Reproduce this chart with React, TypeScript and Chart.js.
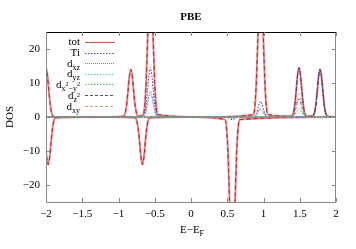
import { useEffect, useRef } from 'react';
import { Chart, registerables } from 'chart.js';

Chart.register(...registerables);

const FONT = '"Liberation Serif", "Times New Roman", serif';

// Energy grid (E - E_F) for spin-up curves
const X_UP = [
  -2.02, -2.0, -1.98, -1.96, -1.94, -1.92, -1.9, -1.88,
  -1.2,
  -0.93, -0.91, -0.89, -0.87, -0.85, -0.83, -0.81, -0.79, -0.77, -0.75, -0.73,
  -0.66, -0.64, -0.62, -0.6, -0.58, -0.56, -0.54, -0.52, -0.5, -0.48, -0.46,
  0.2,
  0.86, 0.88, 0.9, 0.92, 0.94, 0.96, 0.98, 1.0, 1.02, 1.04, 1.06,
  1.39, 1.41, 1.43, 1.45, 1.47, 1.49, 1.51, 1.53, 1.55, 1.57, 1.59,
  1.68, 1.7, 1.72, 1.74, 1.76, 1.78, 1.8, 1.82, 1.84, 1.86, 1.88,
  2.02,
];

const TOT_UP = [
  14.2, 14.5, 12.3, 7.5, 3.3, 1.0, 0.25, 0,
  0,
  0.24, 1.0, 3.2, 7.3, 11.9, 14.0, 11.9, 7.3, 3.2, 1.0, 0.24,
  0.7, 2.9, 9.7, 21.8, 35.7, 42, 35.7, 21.8, 9.7, 2.9, 0.7,
  0,
  0.7, 2.9, 9.7, 21.8, 35.7, 42, 35.7, 21.8, 9.7, 2.9, 0.7,
  0.25, 1.0, 3.3, 7.5, 12.3, 14.5, 12.3, 7.5, 3.3, 1.0, 0.25,
  0.24, 1.0, 3.2, 7.3, 11.9, 14.0, 11.9, 7.3, 3.2, 1.0, 0.24,
  0,
];

const TI_UP = [
  0, 0, 0, 0, 0, 0, 0, 0,
  0,
  0, 0, 0, 0, 0, 0, 0, 0, 0, 0, 0,
  0.25, 1.0, 3.3, 7.5, 12.3, 14.5, 12.3, 7.5, 3.3, 1.0, 0.25,
  0,
  0.08, 0.3, 1.0, 2.3, 3.8, 4.6, 3.8, 2.3, 1.0, 0.3, 0.08,
  0.25, 1.0, 3.3, 7.5, 12.3, 14.5, 12.3, 7.5, 3.3, 1.0, 0.25,
  0.24, 1.0, 3.2, 7.3, 11.9, 14.0, 11.9, 7.3, 3.2, 1.0, 0.24,
  0,
];

const DXZ_UP = [
  0, 0, 0, 0, 0, 0, 0, 0,
  0,
  0, 0, 0, 0, 0, 0, 0, 0, 0, 0, 0,
  0.13, 0.53, 1.7, 3.9, 6.4, 7.5, 6.4, 3.9, 1.7, 0.53, 0.13,
  0,
  0.04, 0.16, 0.53, 1.2, 2.0, 2.3, 2.0, 1.2, 0.53, 0.16, 0.04,
  0, 0, 0, 0, 0, 0, 0, 0, 0, 0, 0,
  0, 0, 0, 0, 0, 0, 0, 0, 0, 0, 0,
  0,
];

const DYZ_UP = [
  0, 0, 0, 0, 0, 0, 0, 0,
  0,
  0, 0, 0, 0, 0, 0, 0, 0, 0, 0, 0,
  0.12, 0.5, 1.6, 3.7, 6.1, 7.2, 6.1, 3.7, 1.6, 0.5, 0.12,
  0,
  0.04, 0.16, 0.53, 1.2, 2.0, 2.3, 2.0, 1.2, 0.53, 0.16, 0.04,
  0, 0, 0, 0, 0, 0, 0, 0, 0, 0, 0,
  0, 0, 0, 0, 0, 0, 0, 0, 0, 0, 0,
  0,
];

const DX2Y2_UP = [
  0, 0, 0, 0, 0, 0, 0, 0,
  0,
  0, 0, 0, 0, 0, 0, 0, 0, 0, 0, 0,
  0, 0, 0, 0, 0, 0, 0, 0, 0, 0, 0,
  0,
  0, 0, 0, 0, 0, 0, 0, 0, 0, 0, 0,
  0.04, 0.17, 0.55, 1.25, 2.0, 2.4, 2.0, 1.25, 0.55, 0.17, 0.04,
  0, 0, 0, 0, 0, 0, 0, 0, 0, 0, 0,
  0,
];

const DZ2_UP = [
  0, 0, 0, 0, 0, 0, 0, 0,
  0,
  0, 0, 0, 0, 0, 0, 0, 0, 0, 0, 0,
  0, 0, 0, 0, 0, 0, 0, 0, 0, 0, 0,
  0,
  0, 0, 0, 0, 0, 0, 0, 0, 0, 0, 0,
  0.09, 0.37, 1.2, 2.8, 4.5, 5.3, 4.5, 2.8, 1.2, 0.37, 0.09,
  0.24, 1.0, 3.2, 7.3, 11.9, 14.0, 11.9, 7.3, 3.2, 1.0, 0.24,
  0,
];

const DXY_UP = [
  0, 0, 0, 0, 0, 0, 0, 0,
  0,
  0, 0, 0, 0, 0, 0, 0, 0, 0, 0, 0,
  0, 0, 0, 0, 0, 0, 0, 0, 0, 0, 0,
  0,
  0, 0, 0, 0, 0, 0, 0, 0, 0, 0, 0,
  0.12, 0.48, 1.6, 3.5, 5.8, 6.8, 5.8, 3.5, 1.6, 0.48, 0.12,
  0, 0, 0, 0, 0, 0, 0, 0, 0, 0, 0,
  0,
];

// Energy grid for spin-down curves
const X_DN = [
  -2.07, -2.05, -2.03, -2.01, -1.99, -1.97, -1.95, -1.93, -1.91, -1.89, -1.87,
  -1.2,
  -0.77, -0.75, -0.73, -0.71, -0.69, -0.67, -0.65, -0.63, -0.61, -0.59, -0.57,
  0.0,
  0.47, 0.49, 0.51, 0.53, 0.55, 0.57, 0.59, 0.61, 0.63, 0.65, 0.67,
  2.02,
];

const TOT_DN = [
  -0.24, -1.0, -3.2, -7.3, -11.9, -14.0, -11.9, -7.3, -3.2, -1.0, -0.24,
  0,
  -0.24, -1.0, -3.2, -7.3, -11.9, -14.0, -11.9, -7.3, -3.2, -1.0, -0.24,
  0,
  -0.77, -3.2, -10.4, -23.4, -38.3, -45, -38.3, -23.4, -10.4, -3.2, -0.77,
  0,
];

const TI_DN = [
  0, 0, 0, 0, 0, 0, 0, 0, 0, 0, 0,
  0,
  0, 0, 0, 0, 0, 0, 0, 0, 0, 0, 0,
  0,
  -0.01, -0.06, -0.18, -0.42, -0.68, -0.8, -0.68, -0.42, -0.18, -0.06, -0.01,
  0,
];

const DXZ_DN = [
  0, 0, 0, 0, 0, 0, 0, 0, 0, 0, 0,
  0,
  0, 0, 0, 0, 0, 0, 0, 0, 0, 0, 0,
  0,
  0, -0.03, -0.09, -0.21, -0.34, -0.4, -0.34, -0.21, -0.09, -0.03, 0,
  0,
];

const X_TICKS = [-2, -1.5, -1, -0.5, 0, 0.5, 1, 1.5, 2];
const Y_TICKS = [-20, -10, 0, 10, 20];

type Part = { t: string; s: number; dy: number };

const LEGEND: { parts: Part[]; color: string; width: number; dash: number[] }[] = [
  { parts: [{ t: 'tot', s: 11, dy: 0 }], color: '#c86060', width: 1.2, dash: [] },
  { parts: [{ t: 'Ti', s: 11, dy: 0 }], color: '#4a4aa8', width: 1, dash: [1.5, 1.5] },
  { parts: [{ t: 'd', s: 11, dy: 0 }, { t: 'xz', s: 8, dy: 3 }], color: '#c850d0', width: 1, dash: [1, 1] },
  { parts: [{ t: 'd', s: 11, dy: 0 }, { t: 'yz', s: 8, dy: 3 }], color: '#40d0d8', width: 1, dash: [1.5, 1.5] },
  {
    parts: [
      { t: 'd', s: 11, dy: 0 },
      { t: 'x', s: 8, dy: 3 },
      { t: '2', s: 6, dy: -2 },
      { t: '\u2212y', s: 8, dy: 3 },
      { t: '2', s: 6, dy: -2 },
    ],
    color: '#40c840', width: 1, dash: [1.5, 1.5],
  },
  { parts: [{ t: 'd', s: 11, dy: 0 }, { t: 'z', s: 8, dy: 3 }, { t: '2', s: 6, dy: -2 }], color: '#505070', width: 1, dash: [3, 2] },
  { parts: [{ t: 'd', s: 11, dy: 0 }, { t: 'xy', s: 8, dy: 3 }], color: '#d0a078', width: 1, dash: [3, 2] },
];

const LEGEND_Y = [41.5, 52.5, 63, 73.5, 84, 95, 106];

function pts(xs: number[], ys: number[]) {
  return xs.map((x, i) => ({ x, y: ys[i] }));
}

function fmt(v: number) {
  return String(v).replace('-', '\u2212');
}

function drawRich(ctx: CanvasRenderingContext2D, parts: Part[], x: number, y: number, align: 'right' | 'center', bold = false) {
  let w = 0;
  for (const p of parts) {
    ctx.font = `${bold ? 'bold ' : ''}${p.s}px ${FONT}`;
    w += ctx.measureText(p.t).width;
  }
  let cx = align === 'right' ? x - w : x - w / 2;
  ctx.textAlign = 'left';
  ctx.textBaseline = 'alphabetic';
  for (const p of parts) {
    ctx.font = `${bold ? 'bold ' : ''}${p.s}px ${FONT}`;
    ctx.fillText(p.t, cx, y + p.dy);
    cx += ctx.measureText(p.t).width;
  }
}

const gnuplotPlugin = {
  id: 'gnuplotFrame',
  afterDraw(chart: any) {
    const ctx: CanvasRenderingContext2D = chart.ctx;
    const { left, right, top, bottom } = chart.chartArea;
    const xs = chart.scales.x;
    const ys = chart.scales.y;
    ctx.save();
    // frame
    ctx.lineWidth = 1;
    ctx.setLineDash([]);
    ctx.strokeStyle = '#888888';
    ctx.beginPath();
    ctx.moveTo(left + 0.5, top);
    ctx.lineTo(left + 0.5, bottom + 0.5);
    ctx.lineTo(right - 0.5, bottom + 0.5);
    ctx.lineTo(right - 0.5, top);
    ctx.stroke();
    ctx.strokeStyle = '#000000';
    ctx.beginPath();
    ctx.moveTo(left, top + 0.5);
    ctx.lineTo(right, top + 0.5);
    ctx.stroke();
    // ticks
    ctx.strokeStyle = '#888888';
    const tl = 4;
    ctx.beginPath();
    for (const v of X_TICKS) {
      const px = Math.round(xs.getPixelForValue(v)) + 0.5;
      ctx.moveTo(px, bottom);
      ctx.lineTo(px, bottom - tl);
      ctx.moveTo(px, top);
      ctx.lineTo(px, top + tl);
    }
    for (const v of Y_TICKS) {
      const py = Math.round(ys.getPixelForValue(v)) + 0.5;
      ctx.moveTo(left, py);
      ctx.lineTo(left + tl, py);
      ctx.moveTo(right, py);
      ctx.lineTo(right - tl, py);
    }
    ctx.stroke();

    // legend
    ctx.fillStyle = '#000';
    LEGEND.forEach((item, i) => {
      const y = LEGEND_Y[i];
      drawRich(ctx, item.parts, 80, y + 3.5, 'right');
      ctx.strokeStyle = item.color;
      ctx.lineWidth = item.width;
      ctx.setLineDash(item.dash);
      ctx.beginPath();
      ctx.moveTo(85, Math.round(y) + 0.5);
      ctx.lineTo(115, Math.round(y) + 0.5);
      ctx.stroke();
    });
    ctx.setLineDash([]);

    // title
    const cxm = (left + right) / 2;
    drawRich(ctx, [{ t: 'PBE', s: 11, dy: 0 }], cxm, 20, 'center', true);
    // x label
    drawRich(ctx, [{ t: 'E\u2212E', s: 11, dy: 0 }, { t: 'F', s: 8, dy: 3 }], cxm + 1, 233, 'center');
    // y label
    ctx.save();
    ctx.translate(13, (top + bottom) / 2);
    ctx.rotate(-Math.PI / 2);
    drawRich(ctx, [{ t: 'DOS', s: 11, dy: 0 }], 0, 0, 'center');
    ctx.restore();
    ctx.restore();
  },
};

export default function App() {
  const ref = useRef<HTMLCanvasElement>(null);

  useEffect(() => {
    if (!ref.current) return;
    const mk = (data: any[], color: string, width: number, dash: number[], order: number) => ({
      data,
      borderColor: color,
      borderWidth: width,
      borderDash: dash,
      pointRadius: 0,
      fill: false,
      cubicInterpolationMode: 'monotone' as const,
      order,
    });
    const datasets = [
      mk(pts(X_UP, TOT_UP), '#dc8a8a', 2, [], 20),
      mk(pts(X_DN, TOT_DN), '#dc8a8a', 2, [], 20),
      mk(pts(X_UP, TOT_UP), '#cc1818', 1, [4, 3], 19),
      mk(pts(X_DN, TOT_DN), '#cc1818', 1, [4, 3], 19),
      mk(pts(X_UP, TI_UP), '#3a3aa0', 1, [1.5, 1.5], 18),
      mk(pts(X_DN, TI_DN), '#3a3aa0', 1, [1.5, 1.5], 18),
      mk(pts(X_UP, DXZ_UP), '#c850d0', 1, [1, 1], 17),
      mk(pts(X_DN, DXZ_DN), '#c850d0', 1, [1, 1], 17),
      mk(pts(X_UP, DYZ_UP), '#40d0d8', 1, [1.5, 1.5], 16),
      mk(pts(X_DN, DXZ_DN), '#40d0d8', 1, [1.5, 1.5], 16),
      mk(pts(X_UP, DX2Y2_UP), '#40c840', 1, [1.5, 1.5], 15),
      mk(pts(X_UP, DZ2_UP), '#505070', 1, [3, 2], 14),
      mk(pts(X_UP, DXY_UP), '#d0a078', 1, [3, 2], 13),
    ];
    const chart = new Chart(ref.current, {
      type: 'line',
      data: { datasets },
      options: {
        responsive: false,
        animation: false,
        devicePixelRatio: 1,
        layout: { padding: { top: 32, right: 20, left: 0, bottom: 0 } },
        plugins: { legend: { display: false }, title: { display: false }, tooltip: { enabled: false } },
        scales: {
          x: {
            type: 'linear',
            min: -2,
            max: 2,
            grid: { display: false, drawTicks: false },
            border: { display: false },
            afterBuildTicks: (axis: any) => {
              axis.ticks = X_TICKS.map((v) => ({ value: v }));
            },
            afterFit: (axis: any) => {
              axis.height = 47;
            },
            ticks: {
              autoSkip: false,
              maxRotation: 0,
              padding: 6,
              color: '#000',
              font: { family: FONT, size: 11 },
              callback: (v: any) => fmt(Number(v)),
            },
          },
          y: {
            type: 'linear',
            min: -25,
            max: 25,
            grid: { display: false, drawTicks: false },
            border: { display: false },
            afterBuildTicks: (axis: any) => {
              axis.ticks = Y_TICKS.map((v) => ({ value: v }));
            },
            afterFit: (axis: any) => {
              axis.width = 46;
            },
            ticks: {
              padding: 6,
              color: '#000',
              font: { family: FONT, size: 11 },
              callback: (v: any) => fmt(Number(v)),
            },
          },
        },
      },
      plugins: [gnuplotPlugin],
    } as any);
    return () => chart.destroy();
  }, []);

  return (
    <div style={{ position: 'fixed', left: 0, top: 0, width: 356, height: 249, background: '#fff' }}>
      <canvas ref={ref} width={356} height={249} style={{ width: 356, height: 249, display: 'block' }} />
    </div>
  );
}
